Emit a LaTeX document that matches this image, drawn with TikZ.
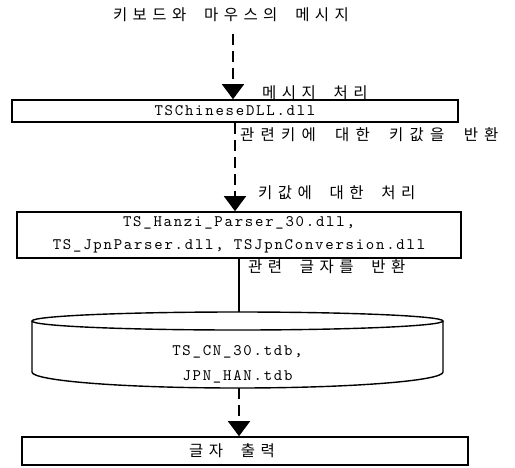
\documentclass[tikz,border=0pt]{standalone}
\usepackage{fontspec}
\newfontfamily\krfont[LetterSpace=35,WordSpace=2]{Noto Sans CJK KR}
\newfontfamily\codefont[LetterSpace=11]{lmmono10-regular.otf}
\usetikzlibrary{arrows.meta,positioning}

\tikzset{
  dllbox/.style={draw, line width=1.6pt, inner sep=0pt, font=\codefont\fontsize{16}{23}\selectfont, align=center},
  krlabel/.style={font=\krfont\fontsize{15.5}{18}\selectfont, inner sep=0pt},
  flow/.style={line width=1.5pt},
  dashflow/.style={flow, dash pattern=on 11pt off 6pt},
  head/.style={-{Triangle[width=22pt,length=15pt]}}
}

\begin{document}
\begin{tikzpicture}[x=1pt,y=1pt]
  \useasboundingbox (0,0) rectangle (515,-467);

  % input message and the three processing stages
  \node[krlabel] (src) at (231,-15) {키보드와 마우스의 메시지};
  \node[dllbox, minimum width=446pt, minimum height=22pt] (chdll) at (235,-111) {TSChineseDLL.dll};
  \node[dllbox, minimum width=444pt, minimum height=46pt] (parser) at (239,-235)
    {TS\_Hanzi\_Parser\_30.dll,\\TS\_JpnParser.dll, TSJpnConversion.dll};

  % table files (drawn as a disk)
  \coordinate (dbtop) at (239,-312);
  \coordinate (dbbot) at (239,-388);
  \draw[line width=1.4pt] (237.5,-321) ellipse (205.5pt and 9pt);
  \draw[line width=1.4pt] (32,-321) -- (32,-372) arc (180:360:205.5pt and 16pt) -- (443,-321);
  \node[font=\codefont\fontsize{16}{25}\selectfont, align=center] (db) at (237.5,-364)
    {TS\_CN\_30.tdb,\\JPN\_HAN.tdb};

  % output
  \node[draw, line width=1.6pt, minimum width=446pt, minimum height=28pt] (outbox) at (245,-451) {};
  \node[krlabel] (outtext) at (232,-451) {글자 출력};

  % connectors
  \draw[dashflow, head] ([yshift=-12pt]src.south -| chdll.north) ++(-2,0) coordinate (a0)
    -- (a0 |- chdll.north);
  \draw[dashflow, head] (chdll.south) -- (chdll.south |- parser.north);
  \draw[flow] (parser.south) -- (dbtop);
  \draw[dashflow, head] (dbbot) -- (dbbot |- outbox.north);

  % labels beside the connectors
  \node[krlabel, anchor=west] (lbl1) at (262,-93) {메시지 처리};
  \node[krlabel, anchor=west, font=\krfont\fontsize{15.5}{18}\selectfont\addfontfeature{LetterSpace=40}]
    (lbl2) at (240,-135) {관련키에 대한 키값을 반환};
  \node[krlabel, anchor=west] (lbl3) at (258,-193) {키값에 대한 처리};
  \node[krlabel, anchor=west] (lbl4) at (248,-267) {관련 글자를 반환};
\end{tikzpicture}
\end{document}
